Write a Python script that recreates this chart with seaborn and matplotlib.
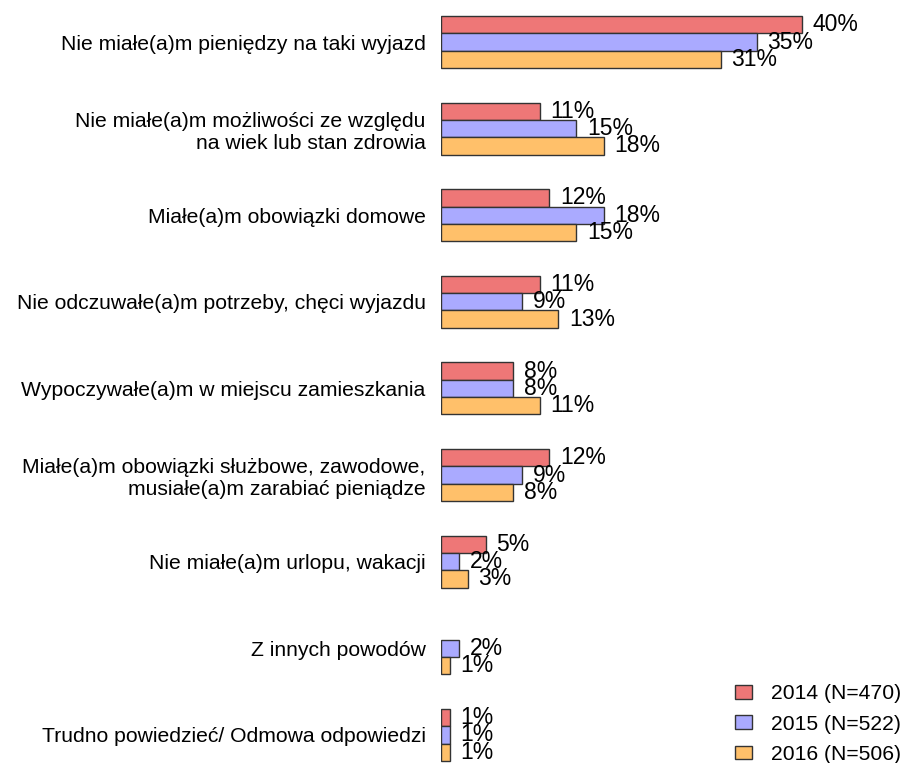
import numpy as np
import pandas as pd
import matplotlib
matplotlib.use("Agg")
import matplotlib.pyplot as plt
import seaborn as sns

CATEGORIES = [
    "Nie miałe(a)m pieniędzy na taki wyjazd",
    "Nie miałe(a)m możliwości ze względu\nna wiek lub stan zdrowia",
    "Miałe(a)m obowiązki domowe",
    "Nie odczuwałe(a)m potrzeby, chęci wyjazdu",
    "Wypoczywałe(a)m w miejscu zamieszkania",
    "Miałe(a)m obowiązki służbowe, zawodowe,\nmusiałe(a)m zarabiać pieniądze",
    "Nie miałe(a)m urlopu, wakacji",
    "Z innych powodów",
    "Trudno powiedzieć/ Odmowa odpowiedzi",
]
SERIES = ["2014 (N=470)", "2015 (N=522)", "2016 (N=506)"]
VALUES_2014 = [40, 11, 12, 11, 8, 12, 5, np.nan, 1]
VALUES_2015 = [35, 15, 18, 9, 8, 9, 2, 2, 1]
VALUES_2016 = [31, 18, 15, 13, 11, 8, 3, 1, 1]
COLORS = ["#EE7777", "#AAAAFF", "#FFC06A"]

rows = []
for name, vals in zip(SERIES, [VALUES_2014, VALUES_2015, VALUES_2016]):
    for cat, v in zip(CATEGORIES, vals):
        rows.append([cat, name, v])
df = pd.DataFrame(rows, columns=["powod", "rok", "procent"])

sns.set_style("white")
plt.rcParams["font.family"] = ["Liberation Sans", "DejaVu Sans"]
plt.rcParams["text.color"] = "black"
plt.rcParams["ytick.color"] = "black"

fig = plt.figure(figsize=(9.01, 7.63), dpi=100)
ax = fig.add_axes([441 / 901, 0, 451.5 / 901, 1])

sns.barplot(data=df, y="powod", x="procent", hue="rok", order=CATEGORIES,
            hue_order=SERIES, palette=COLORS, saturation=1, width=0.6, orient="h",
            edgecolor="#333333", linewidth=1, errorbar=None, ax=ax, legend=True)

for c in ax.containers:
    labels = [f"{v:.0f}%" if np.isfinite(v) else "" for v in c.datavalues]
    ax.bar_label(c, labels=labels, padding=7.5, fontsize=16.5, color="black")

ax.set_xlim(0, 50)
ax.set_ylim(8.325, -0.485)
ax.set_xlabel("")
ax.set_ylabel("")
ax.set_xticks([])
ax.tick_params(axis="y", length=0, pad=11, labelsize=15.2, labelcolor="black")
sns.despine(ax=ax, left=True, bottom=True)

handles, labs = ax.get_legend_handles_labels()
ax.legend_.remove()
fig.legend(handles, labs, loc="lower right", bbox_to_anchor=(1.009, -0.012),
           frameon=False, fontsize=15.2, handlelength=0.82, handleheight=0.6,
           handletextpad=0.87, labelspacing=0.53, borderaxespad=0)

fig.savefig("out.png", dpi=100)
